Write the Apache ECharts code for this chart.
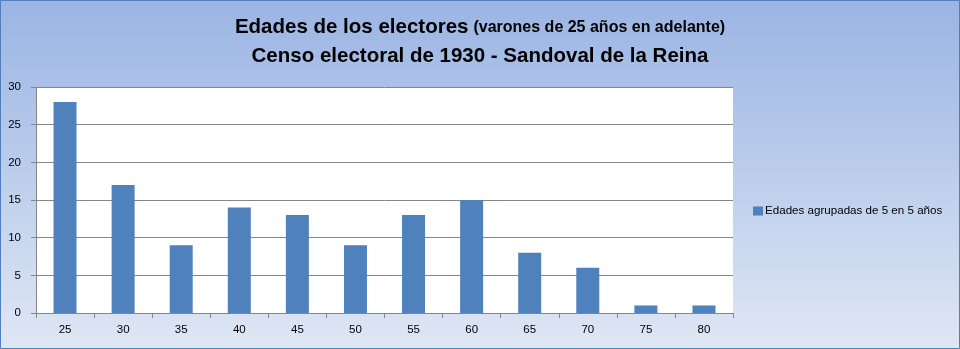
<!DOCTYPE html>
<html><head><meta charset="utf-8">
<script src="https://cdn.jsdelivr.net/npm/echarts@6/dist/echarts.min.js"></script>
<style>html,body{margin:0;padding:0;}#c{width:960px;height:349px;}</style>
</head><body><div id="c"></div>
<script>
var categories = ['25','30','35','40','45','50','55','60','65','70','75','80'];
var values = [28,17,9,14,13,9,13,15,8,6,1,1];
var seriesName = 'Edades agrupadas de 5 en 5 años';
var titleMain = 'Edades de los electores';
var titleSub = '(varones de 25 años en adelante)';
var titleLine2 = 'Censo electoral de 1930 - Sandoval de la Reina';

var chart = echarts.init(document.getElementById('c'), null, {renderer:'canvas'});
var ff = '"Liberation Sans", Arial, sans-serif';
chart.setOption({
  animation:false,
  backgroundColor:{type:'linear',x:0,y:0,x2:0,y2:1,colorStops:[{offset:0,color:'#9ab4e3'},{offset:1,color:'#dfe7f5'}]},
  textStyle:{fontFamily:ff},
  graphic:[{type:'rect',shape:{x:0.5,y:0.5,width:959,height:348},style:{fill:null,stroke:'#4f7fbc',lineWidth:1},silent:true}],
  title:{
    left:'center', top:8,
    text:'{a|'+titleMain+'} {b|'+titleSub+'}\n{c|'+titleLine2+'}',
    textStyle:{
      rich:{
        a:{fontFamily:ff,fontWeight:'bold',fontSize:20.5,color:'#000',lineHeight:29},
        b:{fontFamily:ff,fontWeight:'bold',fontSize:16,color:'#000',lineHeight:29},
        c:{fontFamily:ff,fontWeight:'bold',fontSize:20.5,color:'#000',lineHeight:29}
      }
    }
  },
  legend:{
    left:753, top:205, orient:'vertical', padding:0,
    icon:'rect', itemWidth:10, itemHeight:9, itemGap:4,
    textStyle:{fontFamily:ff,fontSize:11.6,color:'#000',padding:[0,0,0,-3]},
    data:[seriesName]
  },
  grid:{left:36,right:227,top:87,bottom:36,containLabel:false,backgroundColor:'#fff',show:true,borderWidth:0},
  xAxis:{
    type:'category', data:categories,
    axisLine:{lineStyle:{color:'#868686'}},
    axisTick:{show:true,length:5,lineStyle:{color:'#868686'},alignWithLabel:false},
    axisLabel:{color:'#000',fontSize:11.5,margin:11,fontFamily:ff}
  },
  yAxis:{
    type:'value', min:0, max:30, interval:5,
    axisLine:{show:true,lineStyle:{color:'#868686'}},
    axisTick:{show:true,length:5,lineStyle:{color:'#868686'}},
    axisLabel:{color:'#000',fontSize:11.5,margin:15,fontFamily:ff},
    splitLine:{lineStyle:{color:'#868686'}}
  },
  series:[{
    name:seriesName, type:'bar', data:values, barWidth:23,
    itemStyle:{color:'#4f81bd'}
  }]
});
</script></body></html>
